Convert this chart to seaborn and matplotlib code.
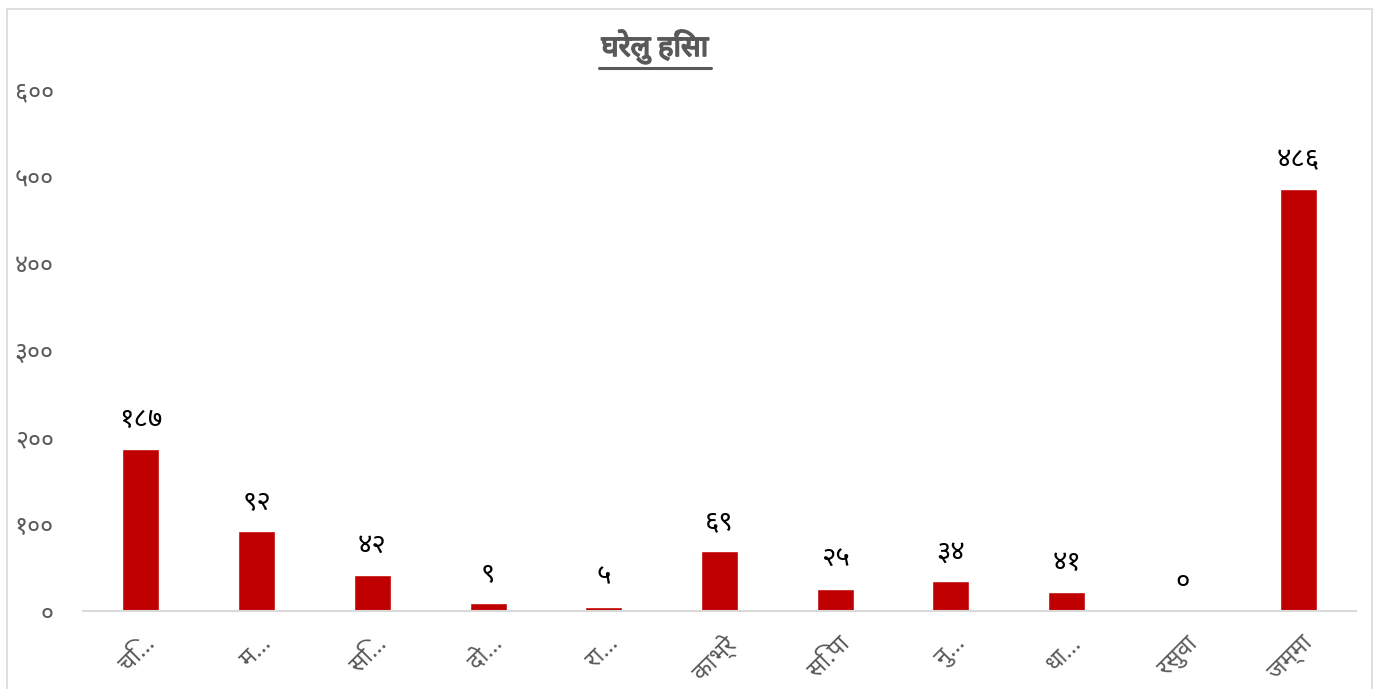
import numpy as np
import pandas as pd
import matplotlib
matplotlib.use("Agg")
import matplotlib.pyplot as plt
import matplotlib.patheffects as pe
import matplotlib.transforms as mtrans
import seaborn as sns
from matplotlib.ticker import FuncFormatter
from matplotlib.lines import Line2D
from matplotlib.patches import Rectangle

# --- data ---
districts = ["चि…", "म…", "सि…", "दो…", "रा…", "काभ्रे", "सि.पा", "नु…", "धा…", "रसुवा", "जम्मा"]
bar_values = [187, 92, 42, 9, 5, 69, 25, 34, 22, 0, 486]
label_values = [187, 92, 42, 9, 5, 69, 25, 34, 41, 0, 486]
y_ticks = [0, 100, 200, 300, 400, 500, 600]

DEV_DIGITS = str.maketrans("0123456789", "०१२३४५६७८९")


def to_dev(n):
    return str(int(n)).translate(DEV_DIGITS)


sns.set_theme(style="white")
plt.rcParams["font.family"] = ["Noto Sans", "DejaVu Sans"]

df = pd.DataFrame({"District": districts, "Count": bar_values})

W, H = 1382, 689
fig = plt.figure(figsize=(W / 100, H / 100), dpi=100)
ax = fig.add_axes([83 / W, 1 - 611 / H, (1356 - 83) / W, (611 - 90) / H])

sns.barplot(data=df, x="District", y="Count", color="#c00000", width=0.32,
            saturation=1, ax=ax)

ax.set_ylim(0, 600)
ax.set_xlim(-0.5, len(districts) - 0.5)
ax.set_yticks(y_ticks)
ax.yaxis.set_major_formatter(FuncFormatter(lambda v, p: to_dev(v)))
ax.set_xlabel("")
ax.set_ylabel("")

for s in ["top", "right", "left"]:
    ax.spines[s].set_visible(False)
ax.spines["bottom"].set_color("#d9d9d9")
ax.spines["bottom"].set_linewidth(1.5)

ax.tick_params(axis="y", length=0, pad=21, labelsize=18, labelcolor="#595959")
ax.tick_params(axis="x", length=0, pad=15, labelsize=17, labelcolor="#595959")

# rotated category labels, nudged slightly right like the original
offset = mtrans.ScaledTranslation(3 / 100, 0, fig.dpi_scale_trans)
for lab in ax.get_xticklabels():
    lab.set_rotation(45)
    lab.set_ha("right")
    lab.set_rotation_mode("anchor")
    lab.set_transform(lab.get_transform() + offset)

for i, (v, t) in enumerate(zip(bar_values, label_values)):
    ax.annotate(to_dev(t), (i, v), xytext=(0, 21), textcoords="offset points",
                ha="center", va="center", fontsize=20, color="black")

# title with underline
fig.text(655 / W, 1 - 47 / H, "घरेलु हिंसा", ha="center", va="center",
         fontsize=21, fontweight="bold", color="#595959",
         path_effects=[pe.withStroke(linewidth=1.2, foreground="#595959")])
fig.add_artist(Line2D([599 / W, 711 / W], [1 - 68 / H, 1 - 68 / H],
                      color="#595959", linewidth=2.2, transform=fig.transFigure))

# chart-area border
fig.add_artist(Rectangle((7 / W, -0.01), (1372 - 7) / W, (1 - 9 / H) + 0.01,
                         fill=False, edgecolor="#d9d9d9", linewidth=1.2,
                         transform=fig.transFigure))

fig.savefig("out.png", dpi=100)
